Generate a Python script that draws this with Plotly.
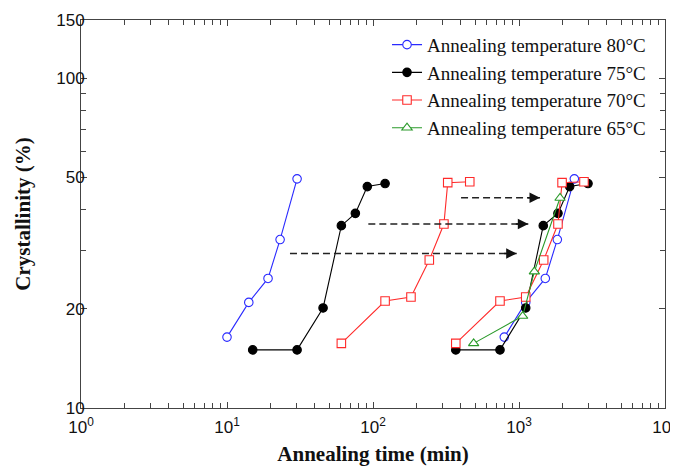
import plotly.graph_objects as go
import math

# 80 °C
t80_a = [10.0, 14.1, 19.1, 23.1, 30.2]
c80_a = [16.4, 20.9, 24.7, 32.4, 49.5]
t80_b = [793, 1112, 1514, 1830, 2393]
c80_b = [16.4, 20.9, 24.7, 32.4, 49.5]
# 75 °C
t75_a = [15.0, 30.2, 45.5, 60.7, 75.7, 91.4, 121]
c75_a = [15.0, 15.0, 20.1, 35.7, 38.9, 46.9, 47.9]
t75_b = [369, 741, 1112, 1466, 1849, 2224, 2970]
c75_b = [15.0, 15.0, 20.1, 35.7, 38.9, 46.9, 47.9]
# 70 °C
t70_a = [60.7, 121, 182, 243, 306, 325, 460]
c70_a = [15.7, 21.1, 21.7, 28.1, 36.1, 48.2, 48.5]
t70_b = [369, 741, 1112, 1476, 1849, 1972, 2786]
c70_b = [15.7, 21.1, 21.7, 28.1, 36.1, 48.2, 48.5]
# 65 °C
t65 = [489, 1060, 1274, 1910]
c65 = [15.7, 19.0, 25.9, 43.3]

# shift arrows
arrow_y = [43.4, 36.1, 29.4]
arrow_x_start = [401, 92.9, 27.0]
arrow_x_end = [1393, 1158, 964]

x_tickvals = [1, 10, 100, 1000, 10000]
x_ticktext = ["10<sup>0</sup>", "10<sup>1</sup>", "10<sup>2</sup>", "10<sup>3</sup>", "10<sup>4</sup>"]
y_tickvals = [10, 20, 50, 100, 150]
y_ticktext = ["10", "20", "50", "100", "150"]

BLUE = "#2a2aff"
BLACK = "#000000"
RED = "#ff2a2a"
GREEN = "#2a9a2a"

fig = go.Figure()

def add(x, y, color, symbol, name, show, fill):
    fig.add_trace(go.Scatter(
        x=x, y=y, mode="lines+markers", name=name, legendgroup=name, showlegend=show,
        line=dict(color=color, width=1.1),
        marker=dict(symbol=symbol, size=8.5 if symbol != "triangle-up" else 9,
                    color=(color if fill else "white"),
                    line=dict(color=color, width=1.1)),
    ))

add(t80_b, c80_b, BLUE, "circle", "Annealing temperature 80°C", True, False)
add(t75_b, c75_b, BLACK, "circle", "Annealing temperature 75°C", True, True)
add(t70_b, c70_b, RED, "square", "Annealing temperature 70°C", True, False)
add(t65, c65, GREEN, "triangle-up", "Annealing temperature 65°C", True, False)
add(t80_a, c80_a, BLUE, "circle", "Annealing temperature 80°C", False, False)
add(t75_a, c75_a, BLACK, "circle", "Annealing temperature 75°C", False, True)
add(t70_a, c70_a, RED, "square", "Annealing temperature 70°C", False, False)

for xs, xe, yv in zip(arrow_x_start, arrow_x_end, arrow_y):
    fig.add_trace(go.Scatter(x=[xs, xe], y=[yv, yv], mode="lines", showlegend=False,
                             line=dict(color="#222222", width=1.5, dash="7px,4px"),
                             hoverinfo="skip"))
    fig.add_annotation(x=math.log10(xe), y=math.log10(yv), ax=-14, ay=0,
                       xref="x", yref="y", showarrow=True, arrowhead=2,
                       arrowsize=1.4, arrowwidth=1.5, arrowcolor="#111111", text="")

axis_common = dict(
    type="log", showline=True, linecolor="#444", linewidth=1, mirror="allticks",
    ticks="inside", ticklen=6, tickcolor="#444", showgrid=False, zeroline=False,
    automargin=False, ticklabeloverflow="allow",
    tickfont=dict(family="Liberation Sans, Arial", size=17, color="#111"),
)

x_minor = [m * 10 ** d for d in range(4) for m in range(2, 10)]
y_minor = [30, 40, 60, 70, 80, 90]

fig.update_xaxes(**axis_common, range=[0, 4], tickvals=x_tickvals, ticktext=x_ticktext,
                 ticklabelstandoff=4,
                 minor=dict(ticks="inside", ticklen=5, tickcolor="#444", tickvals=x_minor, showgrid=False),
                 title=dict(text="<b>Annealing time (min)</b>",
                            font=dict(family="Liberation Serif, Times New Roman", size=21, color="#111"),
                            standoff=9))
fig.update_yaxes(**axis_common, range=[1, math.log10(150)], tickvals=y_tickvals, ticktext=y_ticktext,
                 ticklabelstandoff=-8,
                 minor=dict(ticks="inside", ticklen=5, tickcolor="#444", tickvals=y_minor, showgrid=False),
                 title=dict(text="<b>Crystallinity (%)</b>",
                            font=dict(family="Liberation Serif, Times New Roman", size=21, color="#111"),
                            standoff=19))

fig.update_layout(
    width=670, height=459,
    margin=dict(l=73, r=13, t=12, b=59),
    plot_bgcolor="white", paper_bgcolor="white",
    showlegend=True,
    legend=dict(x=0.524, y=0.985, xanchor="left", yanchor="top",
                font=dict(family="Liberation Serif, Times New Roman", size=19, color="#111"),
                bgcolor="rgba(0,0,0,0)", tracegroupgap=0),
)

fig.write_html("out.html")
